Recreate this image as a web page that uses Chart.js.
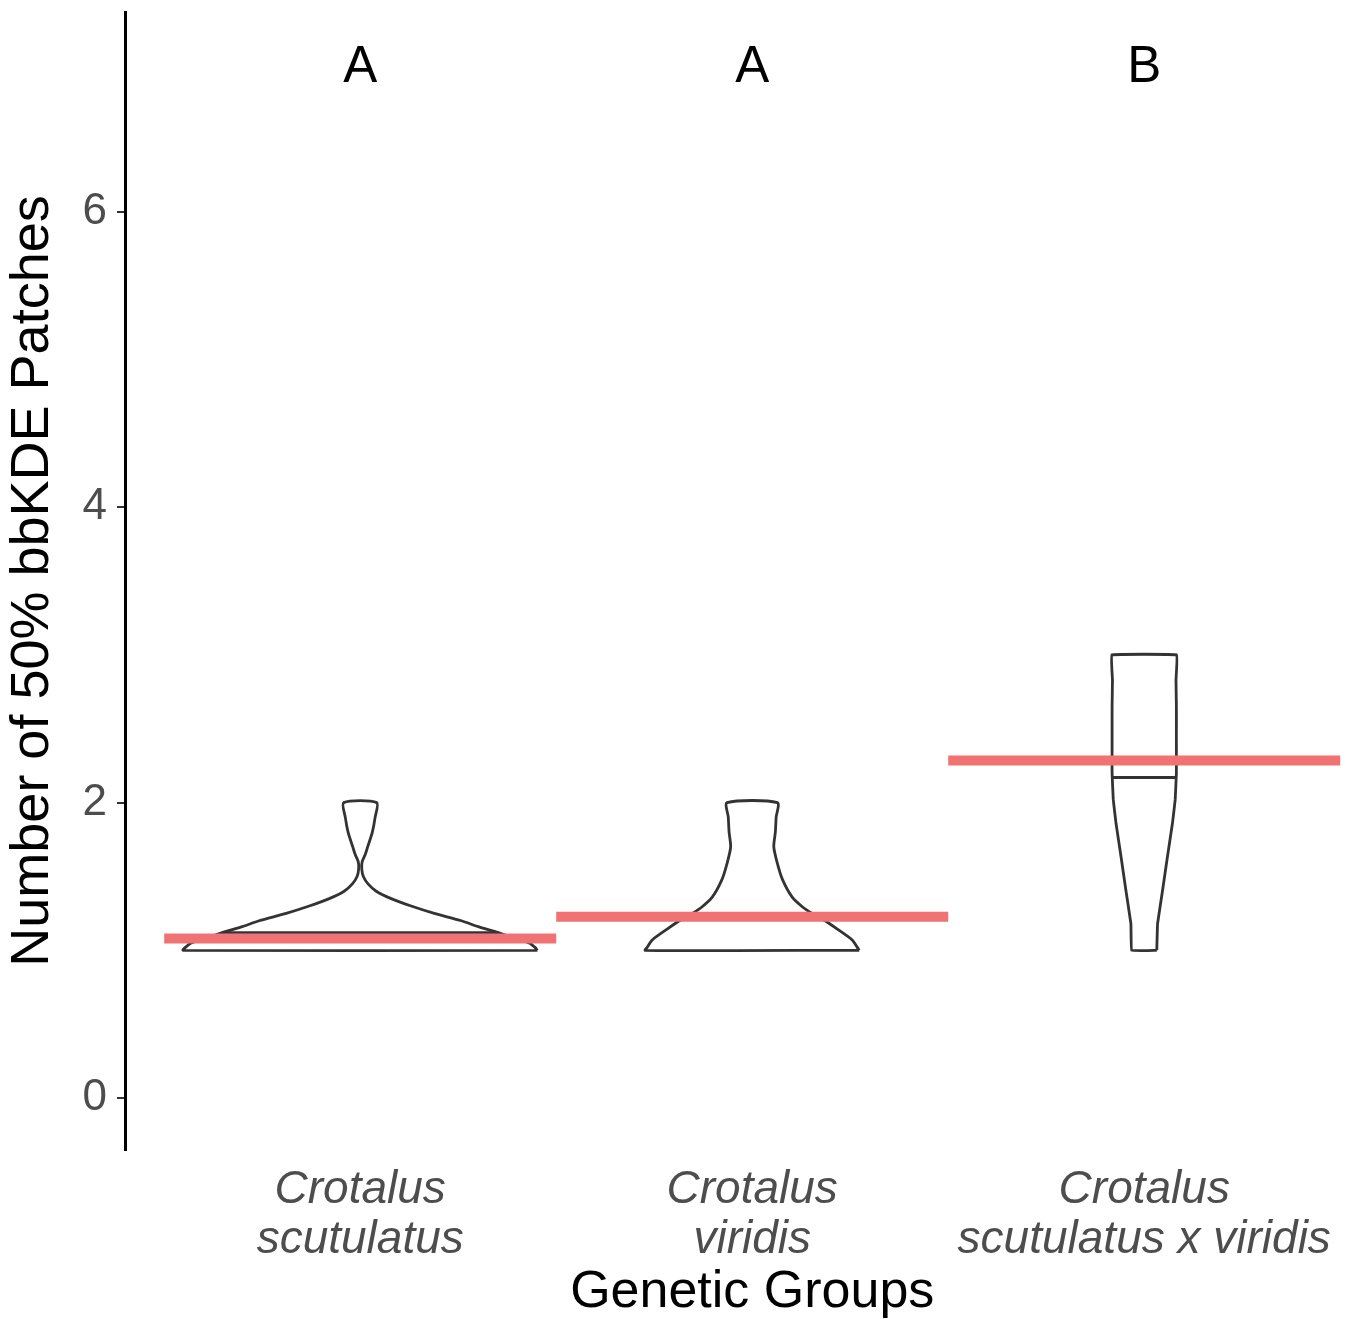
<!DOCTYPE html>
<html><head><meta charset="utf-8">
<script src="https://cdn.jsdelivr.net/npm/chart.js@4"></script>
<style>html,body{margin:0;padding:0;background:#fff;overflow:hidden}</style>
</head><body>
<canvas id="c" width="1352" height="1319"></canvas>
<script>
// ---- data ----
const categories = [["Crotalus","scutulatus"],["Crotalus","viridis"],["Crotalus","scutulatus x viridis"]];
const groupLetters = ["A","A","B"];
const groupMeans = [1.08, 1.228, 2.285];
const medianY = [1.12, null, 2.17];
const medianHalfWidth = [0.352, null, 0.082];
const yTicks = [0, 2, 4, 6];
const letterY = 7;
// violin outlines: y levels and half widths (in category units)
const v1Y = [1.00,1.02,1.05,1.08,1.12,1.16,1.20,1.25,1.30,1.35,1.40,1.45,1.50,1.55,1.60,1.65,1.70,1.80,1.90,2.00];
const v1W = [0.452,0.446,0.431,0.395,0.352,0.301,0.258,0.189,0.130,0.079,0.041,0.020,0.008,0.004,0.005,0.013,0.019,0.031,0.038,0.042];
const v2Y = [1.00,1.02,1.07,1.14,1.20,1.25,1.29,1.36,1.48,1.59,1.70,1.80,1.90,2.00];
const v2W = [0.273,0.268,0.255,0.219,0.186,0.153,0.130,0.102,0.077,0.064,0.055,0.059,0.061,0.064];
const v3Y = [1.00,1.18,1.41,1.63,1.86,2.02,2.20,2.42,2.65,2.83,3.00];
const v3W = [0.032,0.034,0.047,0.059,0.072,0.079,0.082,0.082,0.082,0.081,0.083];

const FONT = "'Liberation Sans', Arial, Helvetica, sans-serif";
const OUTLINE = '#333333';
const MEANCOL = '#F07272';

function violin(center, ys, ws) {
  const pts = [];
  for (let i = 0; i < ys.length; i++) pts.push({x: center + ws[i], y: ys[i]});
  for (let i = ys.length - 1; i >= 0; i--) pts.push({x: center - ws[i], y: ys[i]});
  pts.push({x: center + ws[0], y: ys[0]});
  return pts;
}
const violins = [[v1Y, v1W, 0.25], [v2Y, v2W, 0.25], [v3Y, v3W, 0.05]];

const datasets = [];
groupMeans.forEach((m, i) => {
  datasets.push({data: [{x: i + 1 - 0.5, y: m}, {x: i + 1 + 0.5, y: m}],
    borderColor: MEANCOL, borderWidth: 10, borderCapStyle: 'butt', showLine: true,
    pointRadius: 0, order: 0, tension: 0});
});
violins.forEach(([ys, ws, t], i) => {
  datasets.push({data: violin(i + 1, ys, ws), borderColor: OUTLINE, borderWidth: 2.8,
    showLine: true, pointRadius: 0, tension: t, fill: false, order: 1, borderJoinStyle: 'round'});
  if (medianY[i] !== null) {
    datasets.push({data: [{x: i + 1 - medianHalfWidth[i], y: medianY[i]}, {x: i + 1 + medianHalfWidth[i], y: medianY[i]}],
      borderColor: OUTLINE, borderWidth: 2.8, showLine: true, pointRadius: 0, order: 1});
  }
});

const textPlugin = {
  id: 'texts',
  afterDraw(chart) {
    const ctx = chart.ctx, xs = chart.scales.x, ys = chart.scales.y;
    ctx.save();
    ctx.fillStyle = '#000';
    ctx.textAlign = 'center';
    ctx.textBaseline = 'alphabetic';
    ctx.font = '51px ' + FONT;
    groupLetters.forEach((l, i) => {
      ctx.fillText(l, xs.getPixelForValue(i + 1), ys.getPixelForValue(letterY) + 0.716 * 51 / 2);
    });
    ctx.font = '52px ' + FONT;
    ctx.fillText('Genetic Groups', xs.getPixelForValue(2), chart.chartArea.bottom + 157);
    ctx.restore();
  }
};

function zeroPad(s) { s.paddingTop = 0; s.paddingBottom = 0; s.paddingLeft = 0; s.paddingRight = 0; }

new Chart(document.getElementById('c'), {
  type: 'scatter',
  data: {datasets},
  plugins: [textPlugin],
  options: {
    responsive: false, animation: false, devicePixelRatio: 1,
    layout: {padding: {top: 12, left: 0, right: 0, bottom: 0}},
    plugins: {legend: {display: false}, tooltip: {enabled: false}},
    elements: {line: {fill: false}},
    scales: {
      x: {
        type: 'linear', min: 0.4, max: 3.53, position: 'bottom',
        afterBuildTicks: s => { s.ticks = [1, 2, 3].map(v => ({value: v})); },
        afterFit: s => { s.height = 169; zeroPad(s); },
        ticks: {autoSkip: false, maxRotation: 0, minRotation: 0, padding: 7, color: '#4D4D4D',
          font: {family: FONT, size: 46, style: 'italic', lineHeight: 50 / 46},
          callback: (v, idx) => categories[idx]},
        grid: {display: false},
        border: {display: false}
      },
      y: {
        type: 'linear', min: -0.352, max: 7.353,
        afterBuildTicks: s => { s.ticks = yTicks.map(v => ({value: v})); },
        afterFit: s => { s.width = 125; zeroPad(s); },
        ticks: {color: '#4D4D4D', padding: 10, font: {family: FONT, size: 44}},
        grid: {drawOnChartArea: false, tickLength: 8, color: '#333333', lineWidth: 2},
        border: {display: true, color: '#000', width: 3},
        title: {display: true, text: 'Number of 50% bbKDE Patches', color: '#000',
          font: {family: FONT, size: 54, lineHeight: 1}, padding: {top: 6, bottom: 0}}
      }
    }
  }
});
</script>
</body></html>
